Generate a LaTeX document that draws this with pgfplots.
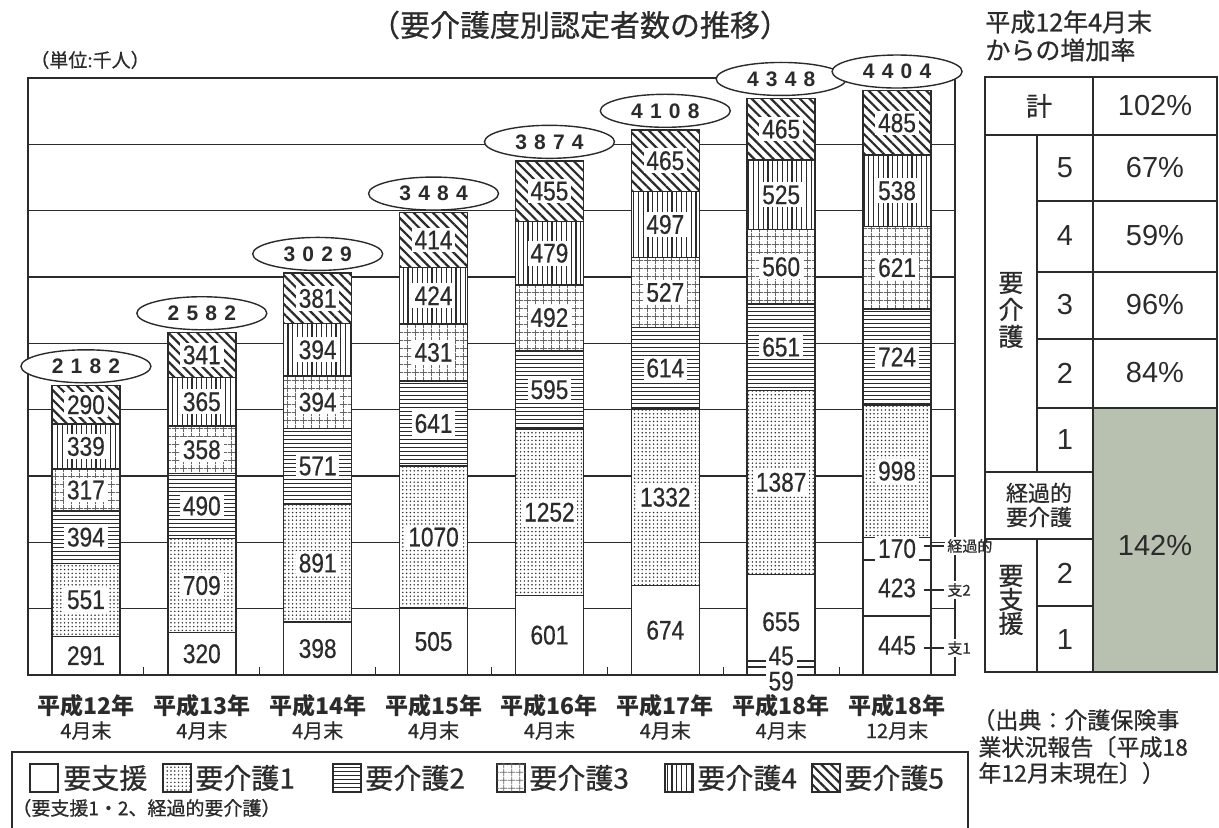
\documentclass[border=0pt]{standalone}
\usepackage{fontspec}
\setmainfont{Noto Sans CJK JP}
\newfontfamily\cjkm{Noto Sans CJK JP}[FakeBold=0.7]
\newfontfamily\numfont{Liberation Sans}[FakeStretch=0.84, FakeBold=0.5]
\newfontfamily\latfont{Liberation Sans}
\usepackage{pgfplots}
\pgfplotsset{compat=1.18}
\usepackage{pgfplotstable}
\usetikzlibrary{patterns.meta,shapes.geometric}

\definecolor{ink}{HTML}{2B2B2B}
\definecolor{sage}{RGB}{184,192,176}

\tikzset{
  p1/.style={postaction={pattern={Dots[distance=1.9pt,radius=0.42pt]},pattern color=ink}},
  p2/.style={postaction={pattern={Lines[angle=0,distance=2pt,line width=0.5pt]},pattern color=ink}},
  p3/.style={postaction={pattern={Hatch[angle=0,distance=4pt,line width=0.4pt]},pattern color=black!60}},
  p4/.style={postaction={pattern={Lines[angle=90,distance=2.4pt,line width=0.55pt]},pattern color=ink}},
  p5/.style={postaction={pattern={Lines[angle=-45,distance=3.4pt,line width=1.1pt]},pattern color=ink}},
  check zero/.code={\pgfmathfloatifflags{\pgfplotspointmeta}{0}{\pgfkeys{/tikz/coordinate}}{}},
}

% values in thousands; a,b,c = 要支援 parts (white), k1..k5 = 要介護1..5
% da,db,dc = label offsets for the thin H18/4 slices
\pgfplotstableread{
x a b c k1 k2 k3 k4 k5 tot z da db dc
0 291 0 0 551 394 317 339 290 2182 0 0 0 0
1 320 0 0 709 490 358 365 341 2582 0 0 0 0
2 398 0 0 891 571 394 394 381 3029 0 0 0 0
3 505 0 0 1070 641 431 424 414 3484 0 0 0 0
4 601 0 0 1252 595 492 479 455 3874 0 0 0 0
5 674 0 0 1332 614 527 497 465 4108 0 0 0 0
6 59 45 655 1387 651 560 525 465 4348 0 -76 62 -30
7 445 423 170 998 724 621 538 485 4404 0 0 0 0
}\care

\newcommand\spaced[1]{\edef\tmp{#1}\expandafter\spacedi\tmp}
\def\spacedi#1#2#3#4{#1\hspace{3.6pt}#2\hspace{3.6pt}#3\hspace{3.6pt}#4}
\newcommand\cat[2]{{\fontsize{11.5}{12}\selectfont\bfseries 平成#1}\\{\cjkm\fontsize{10}{12}\selectfont #2}}

\pgfplotsset{
  lab/.style 2 args={
    point meta=\thisrow{#1},
    visualization depends on={\thisrow{#2} \as \dy},
    nodes near coords={\pgfmathprintnumber{\pgfplotspointmeta}},
    every node near coord/.append style={check zero,
      font=\numfont\fontsize{13.5}{13.5}\selectfont, text=ink, fill=white,
      inner sep=1.4pt, anchor=center,
      shift={(axis direction cs:0,\dy)}},
  },
  seg/.style={fill=white, draw=ink, line width=0.7pt},
  frame/.style={at={(14pt,76.5pt)}, anchor=south west, scale only axis,
    width=463.5pt, height=298.5pt, clip=false,
    xmin=-0.5, xmax=7.5, ymin=0, ymax=4500},
}

\begin{document}
\begin{tikzpicture}
\begin{axis}[
  frame, set layers,
  ybar stacked, bar width=34pt,
  axis line style={draw=ink, line width=0.9pt},
  tick pos=left, major tick length=0pt,
  xtick={0,...,7},
  xticklabels={{\cat{12年}{4月末}},{\cat{13年}{4月末}},{\cat{14年}{4月末}},
    {\cat{15年}{4月末}},{\cat{16年}{4月末}},{\cat{17年}{4月末}},
    {\cat{18年}{4月末}},{\cat{18年}{12月末}}},
  xticklabel style={align=center, text=ink, yshift=-6pt},
  extra x ticks={0.5,1.5,...,6.5}, extra x tick labels={},
  extra x tick style={major tick length=4pt, tick align=inside,
    tick style={draw=ink, line width=0.6pt}},
  ytick={500,1000,...,4000}, yticklabels={},
  ymajorgrids, grid style={draw=ink, line width=0.6pt},
  /pgf/number format/1000 sep={},
  /pgf/number format/assume math mode=true,
]
\addplot[seg, lab={a}{da}] table[x=x, y=a]{\care};
\addplot[seg, lab={b}{db}] table[x=x, y=b]{\care};
\addplot[seg, lab={c}{dc}] table[x=x, y=c]{\care};
\addplot[seg, p1, lab={k1}{z}] table[x=x, y=k1]{\care};
\addplot[seg, p2, lab={k2}{z}] table[x=x, y=k2]{\care};
\addplot[seg, p3, lab={k3}{z}] table[x=x, y=k3]{\care};
\addplot[seg, p4, lab={k4}{z}] table[x=x, y=k4]{\care};
\addplot[seg, p5, lab={k5}{z}] table[x=x, y=k5]{\care};
\end{axis}
% totals in ellipses above the bars
\begin{axis}[frame, hide axis]
\addplot[draw=none, point meta=explicit symbolic,
  nodes near coords={\spaced{\pgfplotspointmeta}},
  every node near coord/.style={ellipse, draw=ink, line width=0.7pt, fill=white,
    minimum width=65pt, minimum height=16.5pt, inner sep=0pt, anchor=south,
    yshift=1pt, font=\latfont\bfseries\fontsize{10.5}{10.5}\selectfont, text=ink}]
  table[x=x, y=tot, meta=tot]{\care};
\end{axis}

% everything below in reference pixels (origin top left)
\begin{scope}[x=0.5pt, y=-0.5pt, shift={(0pt,414pt)}, text=ink]
  \node[font=\cjkm\fontsize{15}{15}\selectfont] at (580,25) {（要介護度別認定者数の推移）};
  \node[anchor=west, font=\cjkm\fontsize{9.5}{10}\selectfont, inner sep=0] at (30,60) {（単位:千人）};

  % notes beside the last bar
  \foreach \yy/\tt in {546/経過的, 590/支2, 648/支1} {
    \draw[ink, line width=0.6pt] (924,\yy) -- (944,\yy);
    \node[anchor=west, fill=white, inner sep=1pt, font=\cjkm\fontsize{7.5}{8}\selectfont] at (945,\yy) {\tt};
  }

  % increase-rate table
  \node[anchor=west, inner sep=0, font=\cjkm\fontsize{12.5}{13}\selectfont] at (985,22) {平成12年4月末};
  \node[anchor=west, inner sep=0, font=\cjkm\fontsize{12.5}{13}\selectfont] at (985,50) {からの増加率};
  \fill[sage] (1093,408) rectangle (1217,672);
  \begin{scope}[draw=ink, line width=0.9pt]
    \draw (985,77) rectangle (1217,672);
    \draw (985,135) -- (1217,135);
    \foreach \yy in {201,272,339,408} \draw (1037,\yy) -- (1217,\yy);
    \draw (985,472) -- (1093,472);
    \draw (985,539) -- (1093,539);
    \draw (1037,606) -- (1093,606);
    \draw (1093,77) -- (1093,672);
    \draw (1037,135) -- (1037,472);
    \draw (1037,539) -- (1037,672);
  \end{scope}
  \begin{scope}[font=\latfont\fontsize{14.5}{14.5}\selectfont]
    \node at (1155,106) {102\%};
    \node at (1155,168) {67\%};
    \node at (1155,236) {59\%};
    \node at (1155,305) {96\%};
    \node at (1155,373) {84\%};
    \node at (1155,545) {142\%};
    \foreach \yy/\tt in {168/5, 236/4, 305/3, 373/2, 440/1, 573/2, 640/1}
      \node at (1065,\yy) {\tt};
  \end{scope}
  \node[font=\cjkm\fontsize{13}{13}\selectfont] at (1039,106) {計};
  \node[align=center, font=\cjkm\fontsize{12.5}{13.5}\selectfont] at (1011,310) {要\\介\\護};
  \node[align=center, font=\cjkm\fontsize{12.5}{12}\selectfont] at (1011,600) {要\\支\\援};
  \node[align=center, font=\cjkm\fontsize{11}{12}\selectfont] at (1039,505) {経過的\\要介護};

  % source
  \begin{scope}[font=\cjkm\fontsize{11.5}{12}\selectfont]
    \node[anchor=west, inner sep=0] at (972,720) {（出典：介護保険事};
    \node[anchor=west, inner sep=0] at (978,747) {業状況報告〔平成18};
    \node[anchor=west, inner sep=0] at (978,773) {年12月末現在〕）};
  \end{scope}

  % legend
  \draw[ink, line width=0.8pt] (12,840) -- (12,752) -- (968,752) -- (968,840);
  \begin{scope}[draw=ink, line width=0.6pt]
    \draw[fill=white] (30,764) rectangle (58,792);
    \draw[fill=white, p1] (163,764) rectangle (191,792);
    \draw[fill=white, p2] (333,764) rectangle (361,792);
    \draw[fill=white, p3] (497,764) rectangle (525,792);
    \draw[fill=white, p4] (665,764) rectangle (693,792);
    \draw[fill=white, p5] (812,764) rectangle (840,792);
  \end{scope}
  \begin{scope}[font=\cjkm\fontsize{14}{14}\selectfont]
    \node[anchor=west, inner sep=0] at (63,778) {要支援};
    \node[anchor=west, inner sep=0] at (195,778) {要介護1};
    \node[anchor=west, inner sep=0] at (365,778) {要介護2};
    \node[anchor=west, inner sep=0] at (529,778) {要介護3};
    \node[anchor=west, inner sep=0] at (697,778) {要介護4};
    \node[anchor=west, inner sep=0] at (844,778) {要介護5};
  \end{scope}
  \node[anchor=west, inner sep=0, font=\cjkm\fontsize{9.5}{10}\selectfont] at (12,808) {（要支援1・2、経過的要介護）};
\end{scope}
\pgfresetboundingbox
\useasboundingbox (0,0) rectangle (609.5pt,414pt);
\end{tikzpicture}
\end{document}
